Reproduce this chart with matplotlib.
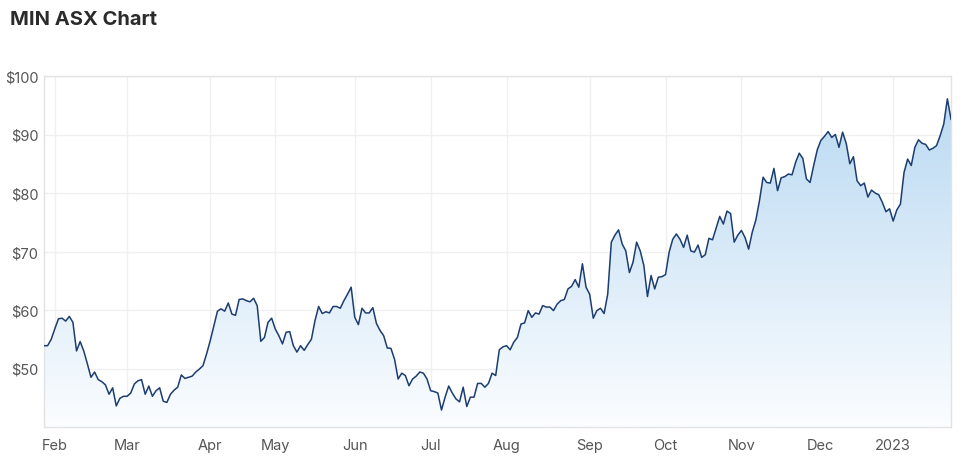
import matplotlib.pyplot as plt
import numpy as np
import pandas as pd
from matplotlib.colors import LinearSegmentedColormap

# ASX trading days shown on the chart
asx_holidays = ['2022-04-15', '2022-04-18', '2022-04-25', '2022-06-13',
                '2022-09-22', '2022-12-26', '2022-12-27', '2023-01-02']
dates = pd.bdate_range('2022-01-27', '2023-01-25', freq='C', holidays=asx_holidays)

# closing prices, month by month
jan22 = [53.9, 53.9, 55.0]
feb22 = [56.8, 58.5, 58.6, 58.1, 58.9, 57.9, 53.0, 54.6, 53.0, 50.8, 48.5, 49.4,
         48.1, 47.75, 47.2, 45.6, 46.7, 43.6, 44.9, 45.25]
mar22 = [45.25, 45.8, 47.35, 47.9, 48.1, 45.6, 47.0, 45.25, 46.2, 46.7, 44.4, 44.2,
         45.6, 46.3, 46.8, 48.9, 48.3, 48.5, 48.7, 49.4, 49.9, 50.5, 52.5]
apr22 = [54.75, 57.3, 59.8, 60.2, 59.8, 61.2, 59.3, 59.1, 61.8, 61.9, 61.6, 61.4,
         62.0, 60.75, 54.65, 55.3, 57.9, 58.6]
may22 = [56.75, 55.6, 54.2, 56.2, 56.3, 53.9, 52.8, 53.9, 53.1, 54.1, 55.0, 58.2,
         60.6, 59.4, 59.7, 59.5, 60.6, 60.6, 60.3, 61.6, 62.7, 63.9]
jun22 = [58.75, 57.5, 60.3, 59.5, 59.5, 60.4, 57.7, 56.5, 55.6, 53.5, 53.45, 51.6,
         48.2, 49.2, 48.8, 47.05, 48.2, 48.7, 49.4, 49.2, 48.2]
jul22 = [46.2, 46.05, 45.8, 42.9, 45.1, 47.0, 45.8, 44.8, 44.3, 46.8, 43.5, 45.1,
         45.1, 47.45, 47.45, 46.8, 47.45, 49.2, 48.8, 53.2, 53.7]
aug22 = [53.9, 53.2, 54.5, 55.3, 57.6, 57.8, 59.9, 58.75, 59.5, 59.3, 60.75, 60.5,
         60.5, 59.9, 61.0, 61.6, 61.8, 63.6, 64.05, 65.2, 63.9, 67.9, 63.9]
sep22 = [62.7, 58.6, 59.9, 60.3, 59.4, 62.7, 71.6, 72.8, 73.7, 71.3, 70.1, 66.4,
         68.15, 71.6, 70.1, 67.6, 62.3, 65.9, 63.6, 65.6, 65.7]
oct22 = [66.05, 69.9, 72.1, 73.0, 72.1, 70.7, 72.8, 70.1, 69.9, 71.1, 69.0, 69.45,
         72.25, 72.0, 74.0, 76.0, 74.7, 76.9, 76.5, 71.6, 72.8]
nov22 = [73.6, 72.4, 70.4, 73.3, 75.4, 78.7, 82.7, 81.8, 81.7, 84.2, 80.4, 82.6,
         82.8, 83.25, 83.1, 85.25, 86.8, 85.9, 82.4, 81.8, 84.7, 87.4]
dec22 = [89.0, 89.7, 90.5, 89.5, 90.0, 87.8, 90.4, 88.5, 85.0, 86.2, 82.1, 81.25,
         81.7, 79.3, 80.5, 80.0, 79.7, 78.4, 76.8, 77.3]
jan23 = [75.2, 77.1, 78.1, 83.5, 85.8, 84.7, 87.8, 89.1, 88.5, 88.3, 87.35, 87.65,
         88.1, 89.8, 91.8, 96.1, 92.6]

y_ticks = [50, 60, 70, 80, 90, 100]
month_labels = ['Feb', 'Mar', 'Apr', 'May', 'Jun', 'Jul', 'Aug', 'Sep', 'Oct',
                'Nov', 'Dec', '2023']

prices = np.array(jan22 + feb22 + mar22 + apr22 + may22 + jun22 + jul22 + aug22
                  + sep22 + oct22 + nov22 + dec22 + jan23)
x = np.arange(len(dates))

# first trading day of each month -> tick position
months = dates.to_period('M')
first_idx = [i for i in range(1, len(dates)) if months[i] != months[i - 1]]

plt.rcParams['font.family'] = ['Inter', 'DejaVu Sans']

fig = plt.figure(figsize=(9.7, 4.64), dpi=100)
ax = fig.add_axes([44 / 970, 1 - 428 / 464, (951 - 44) / 970, (428 - 77) / 464])

ymin, ymax = 40, 100
ax.set_xlim(0, len(x) - 1)
ax.set_ylim(ymin, ymax)

# gradient fill under the line
cmap = LinearSegmentedColormap.from_list('fill', ['#fbfdff', '#b6d7f1'])
grad = np.linspace(0, 1, 256).reshape(-1, 1)
img = ax.imshow(grad, extent=[0, len(x) - 1, ymin, ymax], origin='lower',
                aspect='auto', cmap=cmap, zorder=1)
poly = ax.fill_between(x, prices, ymin, color='none', lw=0)
img.set_clip_path(poly.get_paths()[0], transform=ax.transData)

ax.plot(x, prices, color='#1c3d70', lw=1.1, zorder=3)

ax.set_yticks(y_ticks)
ax.set_yticklabels(['${}'.format(v) for v in y_ticks])
ax.set_xticks(first_idx)
ax.set_xticklabels(month_labels)
ax.tick_params(axis='both', length=0, labelsize=10.5, labelcolor='#555555')
ax.tick_params(axis='y', pad=4)
ax.tick_params(axis='x', pad=8)

ax.grid(True, color='#f0f0f0', lw=1, zorder=0)
ax.set_axisbelow(True)
for s in ax.spines.values():
    s.set_color('#e2e2e2')
    s.set_linewidth(1)

fig.text(10 / 970, 1 - 20 / 464, 'MIN ASX Chart', fontsize=14.5, fontweight='bold',
         color='#2b2b2b', va='center', ha='left')

fig.savefig('out.png', dpi=100)
